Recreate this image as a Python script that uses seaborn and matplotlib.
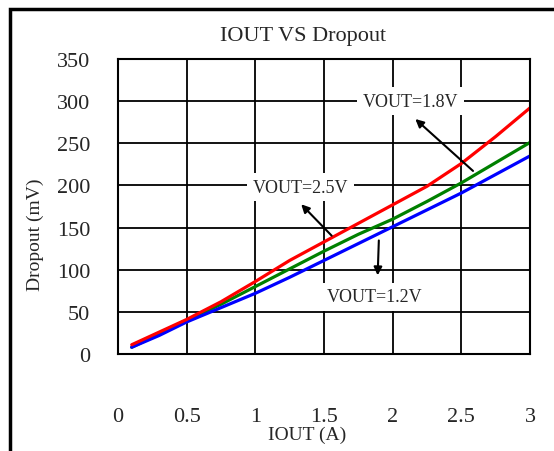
import matplotlib
matplotlib.use("Agg")
import matplotlib.pyplot as plt
import pandas as pd
import seaborn as sns
from matplotlib.patches import Rectangle

# data
iout = [0.1, 0.3, 0.5, 0.75, 1.0, 1.25, 1.5, 1.75, 2.0, 2.25, 2.5, 2.75, 3.0]
drop_18 = [11, 26, 41, 62, 86, 111, 133, 155, 177, 199, 226, 258, 292]
drop_25 = [8, 24, 40, 59, 80, 101, 122, 142, 160, 181, 203, 227, 251]
drop_12 = [8, 22, 38, 55, 72, 91, 111, 131, 151, 171, 191, 213, 235]
series = ["VOUT=1.8V", "VOUT=2.5V", "VOUT=1.2V"]
xticks = [0, 0.5, 1, 1.5, 2, 2.5, 3]
xtick_labels = ["0", "0.5", "1", "1.5", "2", "2.5", "3"]
yticks = [0, 50, 100, 150, 200, 250, 300, 350]

rows = []
for name, vals in zip(series, [drop_18, drop_25, drop_12]):
    for x, y in zip(iout, vals):
        rows.append({"IOUT": x, "Dropout": y, "VOUT": name})
df = pd.DataFrame(rows)

sns.set_theme(style="white")
plt.rcParams["font.family"] = ["Liberation Serif", "DejaVu Serif"]

fig = plt.figure(figsize=(5.54, 4.52), dpi=100)
ax = fig.add_axes([118/554, 1 - 355/452, 412/554, 295/452])

sns.lineplot(data=df, x="IOUT", y="Dropout", hue="VOUT", ax=ax, legend=False,
             palette={"VOUT=1.8V": "#ff0000", "VOUT=2.5V": "#008000", "VOUT=1.2V": "#0000ff"},
             hue_order=["VOUT=2.5V", "VOUT=1.2V", "VOUT=1.8V"], linewidth=2.3)

ax.set_xlim(0, 3)
ax.set_ylim(0, 350)
ax.set_xticks(xticks)
ax.set_xticklabels(xtick_labels)
ax.set_yticks(yticks)
ax.grid(True, color="black", linewidth=1.3)
ax.set_axisbelow(True)
for s in ax.spines.values():
    s.set_color("black")
    s.set_linewidth(1.5)
ax.tick_params(axis="x", length=0, pad=38, labelsize=16)
ax.tick_params(axis="y", length=0, pad=20, labelsize=16)

ax.set_title("IOUT VS Dropout", fontsize=16, pad=14, x=(303 - 118) / 412)
ax.set_xlabel("IOUT (A)", fontsize=14)
ax.set_ylabel("Dropout (mV)", fontsize=14)
ax.xaxis.set_label_coords((307 - 118) / 412, -(427 - 355) / 295)
ax.yaxis.set_label_coords(-(118 - 44) / 412, (355 - 235) / 295)

box = dict(boxstyle="square,pad=0.3", facecolor="white", edgecolor="none")
arrow = dict(arrowstyle="-|>", color="black", lw=1.5, mutation_scale=12)
ax.annotate("VOUT=1.8V", xy=(2.15, 280), xytext=(2.13, 300), ha="center", va="center",
            fontsize=13, bbox=box)
ax.annotate("", xy=(2.15, 281), xytext=(2.60, 215), arrowprops=arrow)
ax.annotate("VOUT=2.5V", xy=(1.33, 198), ha="center", va="center", fontsize=13, bbox=box)
ax.annotate("", xy=(1.32, 180), xytext=(1.57, 138), arrowprops=arrow)
ax.annotate("VOUT=1.2V", xy=(1.87, 68), ha="center", va="center", fontsize=13, bbox=box)
ax.annotate("", xy=(1.89, 90), xytext=(1.90, 138), arrowprops=arrow)

fig.patches.append(Rectangle((10/554, -0.1), 1.2, 1.1 - 10/452, transform=fig.transFigure,
                             fill=False, edgecolor="black", linewidth=2.5))

fig.savefig("out.png", dpi=100)
